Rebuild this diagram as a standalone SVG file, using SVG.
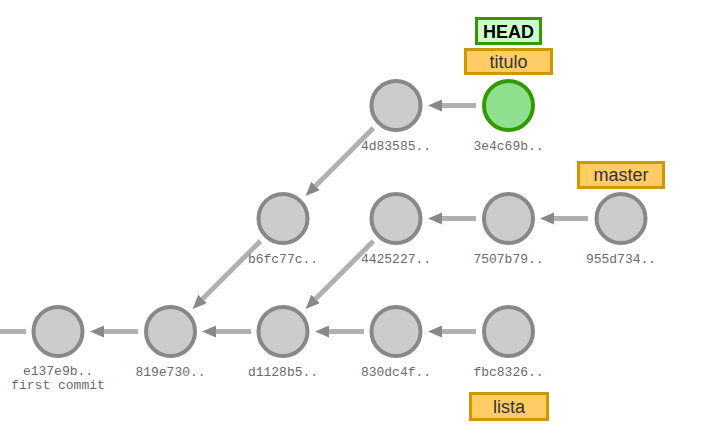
<svg xmlns="http://www.w3.org/2000/svg" width="725" height="447" viewBox="0 0 725 447">
<style>
.commit circle{fill:#cccccc;stroke:#888888;stroke-width:4}
.commit.head circle{fill:#8ee08e;stroke:#339900}
.commit text{font-family:"Liberation Mono","Courier New",monospace;font-size:13px;fill:#6a6a6a;text-anchor:middle}
.link{stroke:#b0b0b0;stroke-width:5;fill:none;marker-end:url(#arr)}
.stub{stroke:#b0b0b0;stroke-width:5;fill:none}
.branch rect{fill:#ffcc66;stroke:#cc9900;stroke-width:3}
.branch text{font-family:"Liberation Sans",Arial,sans-serif;font-size:18px;fill:#333333;text-anchor:middle}
.headlbl rect{fill:#ccffcc;stroke:#339900;stroke-width:3}
.headlbl text{font-family:"Liberation Sans",Arial,sans-serif;font-size:18px;font-weight:bold;fill:#000000;text-anchor:middle}
</style>
<defs>
<marker id="arr" markerUnits="userSpaceOnUse" markerWidth="14" markerHeight="12" viewBox="0 0 14 12" refX="0" refY="6" orient="auto">
<path d="M0,0 L14,6 L0,12 Z" fill="#888888"/>
</marker>
</defs>
<g id="connectors">
<line class="stub" x1="0" y1="331.5" x2="26" y2="331.5"/>
<line class="link" x1="476" y1="105.5" x2="442" y2="105.5"/>
<line class="link" x1="373.4" y1="128.1" x2="315.5" y2="186"/>
<line class="link" x1="260.4" y1="241.1" x2="202.5" y2="299"/>
<line class="link" x1="588" y1="218.5" x2="554" y2="218.5"/>
<line class="link" x1="476" y1="218.5" x2="442" y2="218.5"/>
<line class="link" x1="373.4" y1="241.1" x2="315.5" y2="299"/>
<line class="link" x1="476" y1="331.5" x2="442" y2="331.5"/>
<line class="link" x1="364" y1="331.5" x2="329" y2="331.5"/>
<line class="link" x1="251" y1="331.5" x2="216" y2="331.5"/>
<line class="link" x1="138" y1="331.5" x2="104" y2="331.5"/>
</g>
<g id="c-e137e9b" class="commit"><circle cx="58" cy="331.5" r="24.5"/><text x="58" y="374.5">e137e9b..</text><text x="58" y="389">first commit</text></g>
<g id="c-819e730" class="commit"><circle cx="170.5" cy="331.5" r="24.5"/><text x="170.5" y="375.5">819e730..</text></g>
<g id="c-d1128b5" class="commit"><circle cx="283" cy="331.5" r="24.5"/><text x="283" y="375.5">d1128b5..</text></g>
<g id="c-830dc4f" class="commit"><circle cx="396" cy="331.5" r="24.5"/><text x="396" y="375.5">830dc4f..</text></g>
<g id="c-fbc8326" class="commit"><circle cx="508.5" cy="331.5" r="24.5"/><text x="508.5" y="375.5">fbc8326..</text></g>
<g id="c-b6fc77c" class="commit"><circle cx="283" cy="218.5" r="24.5"/><text x="283" y="262.5">b6fc77c..</text></g>
<g id="c-4425227" class="commit"><circle cx="396" cy="218.5" r="24.5"/><text x="396" y="262.5">4425227..</text></g>
<g id="c-7507b79" class="commit"><circle cx="508.5" cy="218.5" r="24.5"/><text x="508.5" y="262.5">7507b79..</text></g>
<g id="c-955d734" class="commit"><circle cx="621" cy="218.5" r="24.5"/><text x="621" y="262.5">955d734..</text></g>
<g id="c-4d83585" class="commit"><circle cx="396" cy="105.5" r="24.5"/><text x="396" y="149.5">4d83585..</text></g>
<g id="c-3e4c69b" class="commit head"><circle cx="508.5" cy="105.5" r="24.5"/><text x="508.5" y="149.5">3e4c69b..</text></g>
<g id="lbl-HEAD" class="headlbl"><rect x="476.5" y="18.5" width="64" height="25"/><text x="508.5" y="37.5">HEAD</text></g>
<g id="lbl-titulo" class="branch"><rect x="465.5" y="49.5" width="86" height="24"/><text x="508.5" y="67.5">titulo</text></g>
<g id="lbl-master" class="branch"><rect x="578.5" y="162.5" width="85" height="25"/><text x="621" y="181">master</text></g>
<g id="lbl-lista" class="branch"><rect x="470.5" y="393.5" width="77" height="26"/><text x="509" y="413">lista</text></g>
</svg>
